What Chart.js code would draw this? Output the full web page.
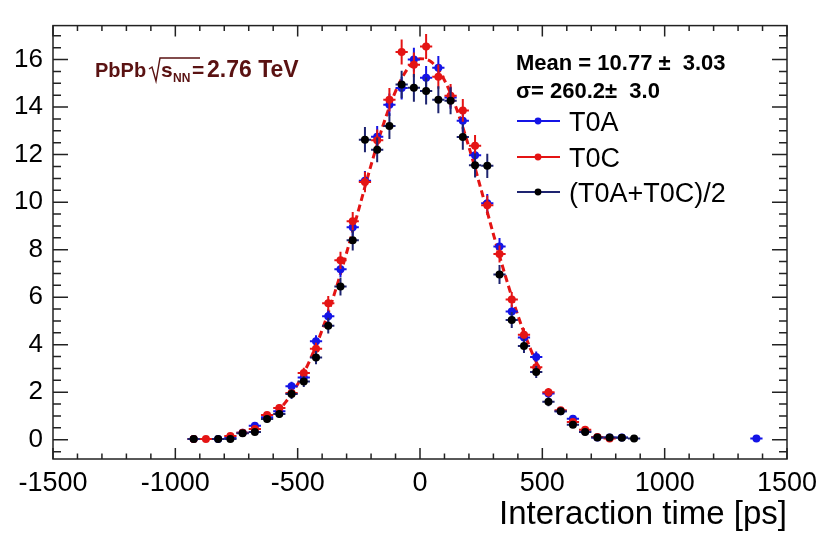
<!DOCTYPE html>
<html>
<head>
<meta charset="utf-8">
<script src="https://cdn.jsdelivr.net/npm/chart.js@4.4.1/dist/chart.umd.min.js"></script>
<style>
  html, body { margin: 0; padding: 0; background: #fff; }
  canvas { display: block; }
</style>
</head>
<body>
<canvas id="c" width="832" height="535"></canvas>
<script>
// ---- data ----
// bin centres [ps], 50 ps bins, plus the lone T0A entry far right
const binCenters = [-925, -875, -825, -775, -725, -675, -625, -575, -525, -475, -425, -375, -325, -275, -225, -175, -125, -75, -25, 25,
                    75, 125, 175, 225, 275, 325, 375, 425, 475, 525, 575, 625, 675, 725, 775, 825, 875, 1375];

const t0a = [0.03, null, 0.03, 0.08, 0.3, 0.59, 0.95, 1.2, 2.25, 2.62, 4.15, 5.2, 7.18, 8.94, 10.9, 12.75, 14.1, 14.8, 16.0, 15.24,
             15.66, 14.4, 13.43, 11.97, 9.95, 8.13, 5.4, 4.3, 3.48, 1.95, 1.2, 0.88, 0.35, 0.1, 0.1, 0.09, null, 0.05];
const t0aErr = [0.02, null, 0.02, 0.04, 0.07, 0.1, 0.12, 0.14, 0.19, 0.2, 0.25, 0.29, 0.33, 0.37, 0.41, 0.45, 0.47, 0.48, 0.5, 0.49,
                0.49, 0.47, 0.46, 0.43, 0.39, 0.36, 0.29, 0.26, 0.23, 0.17, 0.14, 0.12, 0.07, 0.04, 0.04, 0.04, null, 0.03];

const t0c = [0.03, 0.03, null, 0.16, 0.3, 0.45, 1.04, 1.34, 1.97, 2.81, 3.83, 5.74, 7.55, 9.2, 10.85, 12.6, 14.31, 16.32, 15.78, 16.55,
             15.28, 14.48, 13.86, 12.37, 9.87, 7.82, 5.9, 4.42, 3.05, 2.0, 1.24, 0.75, 0.42, 0.12, 0.05, null, null, null];
const t0cErr = [0.02, 0.02, null, 0.05, 0.07, 0.09, 0.13, 0.15, 0.18, 0.22, 0.25, 0.31, 0.36, 0.39, 0.43, 0.46, 0.49, 0.53, 0.52, 0.53,
                0.51, 0.49, 0.48, 0.46, 0.41, 0.36, 0.32, 0.27, 0.23, 0.18, 0.14, 0.11, 0.08, 0.05, 0.03, null, null, null];

const avg = [0.03, null, 0.03, 0.03, 0.27, 0.33, 0.87, 1.08, 1.93, 2.45, 3.46, 4.8, 6.45, 8.4, 12.63, 12.2, 13.2, 14.95, 14.81, 14.68,
             14.31, 14.27, 12.74, 11.55, 11.53, 6.95, 5.04, 3.95, 2.85, 1.6, 1.2, 0.63, 0.33, 0.09, 0.09, 0.08, 0.05, null];
const avgErr = [0.03, null, 0.03, 0.03, 0.08, 0.09, 0.14, 0.16, 0.21, 0.23, 0.28, 0.33, 0.38, 0.43, 0.53, 0.52, 0.54, 0.58, 0.58, 0.57,
                0.57, 0.57, 0.54, 0.51, 0.51, 0.4, 0.34, 0.3, 0.25, 0.19, 0.16, 0.12, 0.09, 0.05, 0.05, 0.04, 0.03, null];

// gaussian fit curve
const fitX = [-590, -550, -500, -450, -400, -350, -300, -250, -200, -150, -100, -50, 0, 50, 100, 150, 200, 250, 300, 350, 400, 450, 490];
const fitY = [1.12, 1.57, 2.34, 3.35, 4.62, 6.14, 7.87, 9.71, 11.56, 13.26, 14.66, 15.62, 16.04, 15.87, 15.13, 13.91, 12.32, 10.52, 8.65, 6.86, 5.24, 3.86, 2.94];

const xTicks = [-1500, -1000, -500, 0, 500, 1000, 1500];
const yTicks = [0, 2, 4, 6, 8, 10, 12, 14, 16];

const halfBin = 25;
const FONT = "'Liberation Sans', Arial, Helvetica, sans-serif";
const BLUE = '#1414e6', RED = '#e41414', NAVY = '#1e2470', MAROON = '#5a1212';

function pts(vals, errs) {
    return binCenters.map((x, i) => ({ x: x, y: vals[i], e: errs[i] })).filter(p => p.y !== null);
}

// error bars: vertical +-err, horizontal +-half bin
const errorBars = {
    id: 'errorBars',
    beforeDatasetDraw(chart, args) {
        const ds = chart.data.datasets[args.index];
        if (!ds.barColor) return;
        const xs = chart.scales.x, ys = chart.scales.y, c = chart.ctx;
        c.save();
        c.strokeStyle = ds.barColor;
        c.lineWidth = 2;
        ds.data.forEach(p => {
            const px = xs.getPixelForValue(p.x), py = ys.getPixelForValue(p.y);
            c.beginPath();
            c.moveTo(xs.getPixelForValue(p.x - halfBin), py);
            c.lineTo(xs.getPixelForValue(p.x + halfBin), py);
            c.moveTo(px, ys.getPixelForValue(p.y - p.e));
            c.lineTo(px, ys.getPixelForValue(p.y + p.e));
            c.stroke();
        });
        c.restore();
    }
};

// ROOT style frame with inward ticks on all four sides
const rootFrame = {
    id: 'rootFrame',
    afterDraw(chart) {
        const a = chart.chartArea, xs = chart.scales.x, ys = chart.scales.y, c = chart.ctx;
        c.save();
        c.strokeStyle = '#222';
        c.lineWidth = 1.5;
        c.strokeRect(a.left, a.top, a.right - a.left, a.bottom - a.top);
        c.beginPath();
        for (let v = -1500; v <= 1500; v += 100) {
            const px = xs.getPixelForValue(v);
            const len = (v % 500 === 0) ? 11 : 5.5;
            c.moveTo(px, a.bottom); c.lineTo(px, a.bottom - len);
            c.moveTo(px, a.top); c.lineTo(px, a.top + len);
        }
        for (let v = -0.5; v <= 17.2; v += 0.5) {
            const py = ys.getPixelForValue(v);
            const len = (v % 2 === 0) ? 15 : 8;
            c.moveTo(a.left, py); c.lineTo(a.left + len, py);
            c.moveTo(a.right, py); c.lineTo(a.right - len, py);
        }
        c.stroke();
        c.restore();
    }
};

// text boxes: collision label, fit result, legend
const annotations = {
    id: 'annotations',
    afterDraw(chart) {
        const c = chart.ctx;
        c.save();
        c.textBaseline = 'alphabetic';

        // PbPb sqrt(s_NN) = 2.76 TeV
        c.fillStyle = MAROON;
        c.strokeStyle = MAROON;
        c.font = 'bold 20px ' + FONT;
        c.fillText('PbPb', 95, 77);
        c.lineWidth = 1.4;
        c.beginPath();
        c.moveTo(149, 69); c.lineTo(152, 67); c.lineTo(156, 81); c.lineTo(160, 58); c.lineTo(200, 58);
        c.stroke();
        c.font = 'bold 21px ' + FONT;
        c.fillText('s', 161, 77);
        c.font = 'bold 12px ' + FONT;
        c.fillText('NN', 173, 82);
        c.font = 'bold 21px ' + FONT;
        c.fillText('=', 192, 77);
        c.font = 'bold 23px ' + FONT;
        c.fillText('2.76 TeV', 207, 77);

        // fit result
        c.fillStyle = '#000';
        c.font = 'bold 22px ' + FONT;
        c.fillText('Mean = 10.77 \u00b1  3.03', 516, 70);
        c.fillText('\u03c3= 260.2\u00b1  3.0', 516, 98);

        // legend
        const rows = [
            { label: 'T0A', line: BLUE, dot: BLUE, y: 121 },
            { label: 'T0C', line: RED, dot: RED, y: 157 },
            { label: '(T0A+T0C)/2', line: NAVY, dot: '#000', y: 192 }
        ];
        rows.forEach(r => {
            c.strokeStyle = r.line;
            c.lineWidth = 2;
            c.beginPath();
            c.moveTo(517, r.y); c.lineTo(560, r.y);
            c.stroke();
            c.fillStyle = r.dot;
            c.beginPath();
            c.arc(538, r.y, 3.4, 0, Math.PI * 2);
            c.fill();
            c.fillStyle = '#000';
            c.font = '27px ' + FONT;
            c.fillText(r.label, 569, r.y + 10);
        });
        c.restore();
    }
};

const ctx = document.getElementById('c').getContext('2d');
const chart = new Chart(ctx, {
    type: 'scatter',
    data: {
        datasets: [
            { label: '(T0A+T0C)/2', data: pts(avg, avgErr), barColor: NAVY, pointRadius: 4, pointBackgroundColor: '#000', pointBorderWidth: 0, showLine: false },
            { label: 'T0C', data: pts(t0c, t0cErr), barColor: RED, pointRadius: 4, pointBackgroundColor: RED, pointBorderWidth: 0, showLine: false },
            { label: 'T0A', data: pts(t0a, t0aErr), barColor: BLUE, pointRadius: 4, pointBackgroundColor: BLUE, pointBorderWidth: 0, showLine: false },
            { label: 'fit', type: 'line', data: fitX.map((x, i) => ({ x: x, y: fitY[i] })), borderColor: RED, borderWidth: 3,
              borderDash: [7, 4], pointRadius: 0, fill: false, cubicInterpolationMode: 'monotone' }
        ]
    },
    options: {
        responsive: false,
        animation: false,
        layout: { padding: { left: 0, right: 45, top: 7, bottom: 0 } },
        plugins: { legend: { display: false }, tooltip: { enabled: false } },
        scales: {
            x: {
                type: 'linear', min: -1500, max: 1500,
                afterBuildTicks: s => { s.ticks = xTicks.map(v => ({ value: v })); },
                afterFit: s => { s.height = 76; },
                grid: { display: false, drawTicks: false },
                border: { display: false },
                ticks: { color: '#000', font: { family: FONT, size: 27 }, padding: 8, maxRotation: 0, autoSkip: false,
                         callback: v => String(v) },
                title: { display: true, text: 'Interaction time [ps]', align: 'end', color: '#000',
                         font: { family: FONT, size: 33 }, padding: { top: 0, bottom: 0 } }
            },
            y: {
                type: 'linear', min: -0.81, max: 17.43,
                afterBuildTicks: s => { s.ticks = yTicks.map(v => ({ value: v })); },
                afterFit: s => { s.width = 53; },
                grid: { display: false, drawTicks: false },
                border: { display: false },
                ticks: { color: '#000', font: { family: FONT, size: 26 }, padding: 10, callback: v => String(v) }
            }
        }
    },
    plugins: [errorBars, rootFrame, annotations]
});
</script>
</body>
</html>
